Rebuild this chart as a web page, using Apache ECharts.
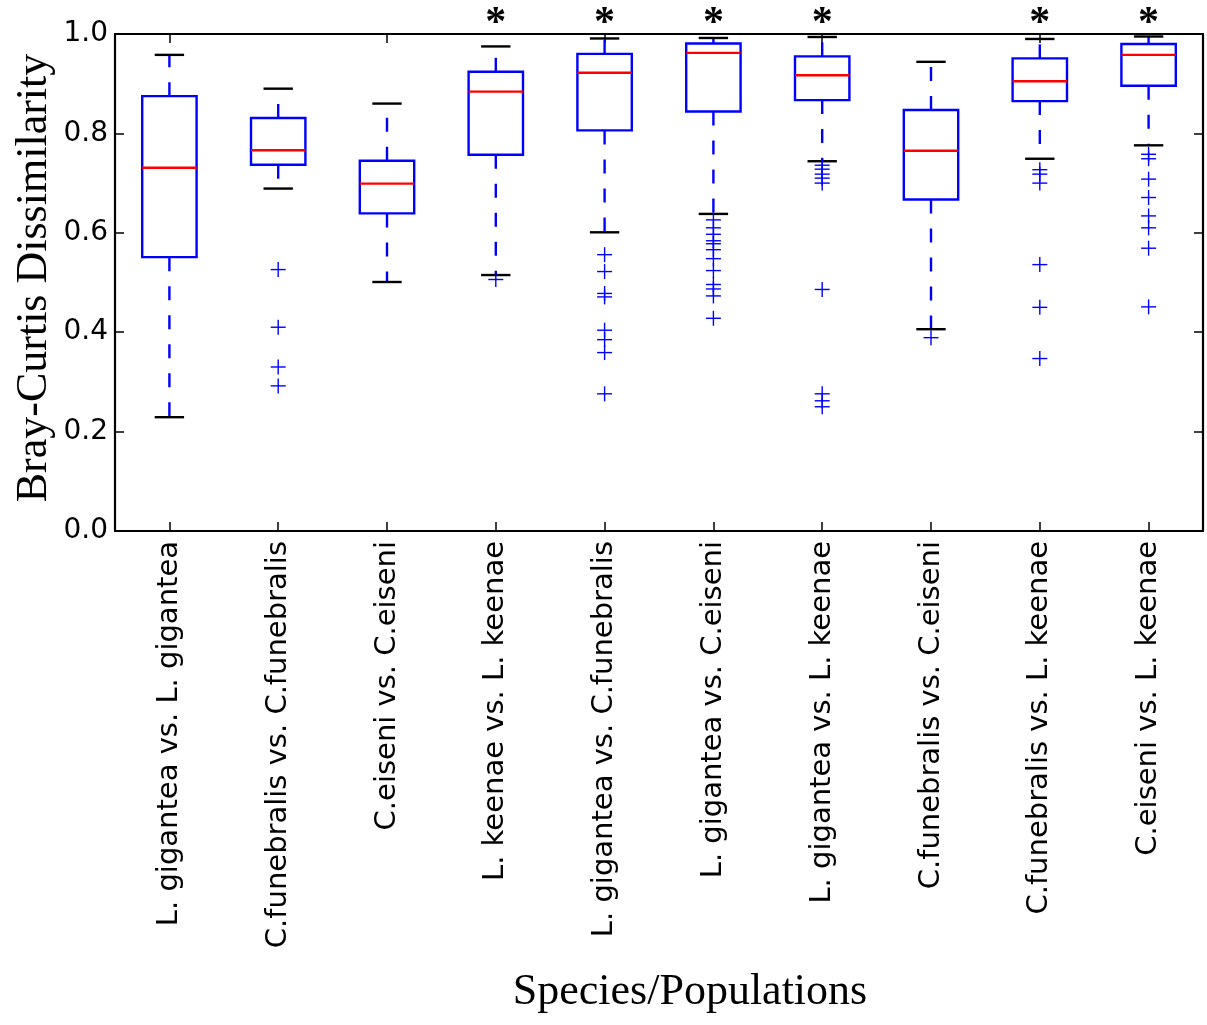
<!DOCTYPE html>
<html>
<head>
<meta charset="utf-8">
<script src="https://cdn.jsdelivr.net/npm/echarts@6/dist/echarts.min.js"></script>
<style>
  html, body { margin: 0; padding: 0; background: #fff; }
  #chart { width: 1207px; height: 1025px; }
</style>
</head>
<body>
<div id="chart"></div>
<script>
// Pairwise comparisons (species / populations)
const categories = [
  'L. gigantea vs. L. gigantea',
  'C.funebralis vs. C.funebralis',
  'C.eiseni vs. C.eiseni',
  'L. keenae vs. L. keenae',
  'L. gigantea vs. C.funebralis',
  'L. gigantea vs. C.eiseni',
  'L. gigantea vs. L. keenae',
  'C.funebralis vs. C.eiseni',
  'C.funebralis vs. L. keenae',
  'C.eiseni vs. L. keenae'
];

// Box statistics of Bray-Curtis dissimilarity per comparison
const lowerWhisker = [0.229, 0.689, 0.501, 0.515, 0.601, 0.638, 0.744, 0.406, 0.749, 0.776];
const quartile1    = [0.551, 0.737, 0.639, 0.757, 0.806, 0.844, 0.867, 0.667, 0.865, 0.896];
const medians      = [0.731, 0.766, 0.699, 0.884, 0.922, 0.962, 0.917, 0.765, 0.905, 0.958];
const quartile3    = [0.875, 0.831, 0.745, 0.924, 0.960, 0.981, 0.955, 0.847, 0.951, 0.980];
const upperWhisker = [0.958, 0.890, 0.860, 0.975, 0.991, 0.992, 0.994, 0.944, 0.990, 0.995];

// Points beyond the whiskers
const outliers = [
  [],
  [0.526, 0.410, 0.330, 0.292],
  [],
  [0.506],
  [0.556, 0.522, 0.478, 0.471, 0.404, 0.385, 0.359, 0.276],
  [0.626, 0.610, 0.597, 0.584, 0.578, 0.566, 0.548, 0.524, 0.496, 0.487, 0.473, 0.428],
  [0.736, 0.728, 0.718, 0.710, 0.700, 0.486, 0.276, 0.262, 0.250],
  [0.389],
  [0.727, 0.718, 0.700, 0.536, 0.450, 0.347],
  [0.758, 0.749, 0.708, 0.671, 0.634, 0.610, 0.569, 0.451]
];

// Comparisons marked as significant
const significant = [false, false, false, true, true, true, true, false, true, true];

// Y axis ticks
const yTicks = [0.0, 0.2, 0.4, 0.6, 0.8, 1.0];

const BLUE = '#0000ff';
const RED = '#ff0000';
const BLACK = '#000000';
const SANS = '"DejaVu Sans", sans-serif';
const SERIF = '"Liberation Serif", "Times New Roman", serif';
const LW = 2.4;

const boxData = categories.map((c, i) => [i, lowerWhisker[i], quartile1[i], medians[i], quartile3[i], upperWhisker[i]]);
const outlierData = [];
outliers.forEach((list, i) => list.forEach(v => outlierData.push([i, v])));
const starData = [];
significant.forEach((s, i) => { if (s) starData.push([i, 1.0]); });

function renderBox(params, api) {
  const i = api.value(0);
  const lo = api.coord([i, api.value(1)]);
  const q1 = api.coord([i, api.value(2)]);
  const md = api.coord([i, api.value(3)]);
  const q3 = api.coord([i, api.value(4)]);
  const hi = api.coord([i, api.value(5)]);
  const band = api.size([1, 0])[0];
  const bw = band * 0.5;
  const cw = band * 0.27;
  const cx = lo[0];
  const dashed = { stroke: BLUE, lineWidth: LW, lineDash: [14, 15], fill: null };
  const cap = { stroke: BLACK, lineWidth: LW };
  return {
    type: 'group',
    children: [
      { type: 'line', shape: { x1: cx, y1: q1[1], x2: cx, y2: lo[1] }, style: dashed },
      { type: 'line', shape: { x1: cx, y1: q3[1], x2: cx, y2: hi[1] }, style: dashed },
      { type: 'line', shape: { x1: cx - cw / 2, y1: lo[1], x2: cx + cw / 2, y2: lo[1] }, style: cap },
      { type: 'line', shape: { x1: cx - cw / 2, y1: hi[1], x2: cx + cw / 2, y2: hi[1] }, style: cap },
      { type: 'rect', shape: { x: cx - bw / 2, y: q3[1], width: bw, height: q1[1] - q3[1] }, style: { stroke: BLUE, lineWidth: LW, fill: null } },
      { type: 'line', shape: { x1: cx - bw / 2, y1: md[1], x2: cx + bw / 2, y2: md[1] }, style: { stroke: RED, lineWidth: LW } }
    ]
  };
}

function renderPlus(params, api) {
  const p = api.coord([api.value(0), api.value(1)]);
  const h = 7.5;
  const st = { stroke: BLUE, lineWidth: 1.4 };
  return {
    type: 'group',
    children: [
      { type: 'line', shape: { x1: p[0] - h, y1: p[1], x2: p[0] + h, y2: p[1] }, style: st },
      { type: 'line', shape: { x1: p[0], y1: p[1] - h, x2: p[0], y2: p[1] + h }, style: st }
    ]
  };
}

function renderStar(params, api) {
  const p = api.coord([api.value(0), api.value(1)]);
  return {
    type: 'text',
    x: p[0],
    y: p[1] - 10,
    style: {
      text: '*',
      fontSize: 42,
      fontWeight: 'bold',
      fontFamily: SERIF,
      fill: BLACK,
      align: 'center',
      verticalAlign: 'middle'
    }
  };
}

const tickStyle = { show: true, inside: true, length: 9, alignWithLabel: true, lineStyle: { color: BLACK, width: 1.5 } };
const frameLine = { show: true, onZero: false, lineStyle: { color: BLACK, width: 2.2 } };

const chart = echarts.init(document.getElementById('chart'), null, { renderer: 'canvas' });
chart.setOption({
  backgroundColor: '#ffffff',
  animation: false,
  grid: { left: 115, right: 4, top: 34, bottom: 494, containLabel: false, outerBoundsMode: 'none' },
  xAxis: [
    {
      type: 'category', data: categories, position: 'bottom', boundaryGap: true,
      axisLine: frameLine, axisTick: tickStyle,
      axisLabel: { rotate: 90, margin: 10, fontSize: 29, fontFamily: SANS, color: BLACK, interval: 0 },
      splitLine: { show: false }
    },
    {
      type: 'category', data: categories, position: 'top', boundaryGap: true,
      axisLine: frameLine, axisTick: tickStyle, axisLabel: { show: false }, splitLine: { show: false }
    }
  ],
  yAxis: [
    {
      type: 'value', min: 0, max: 1, interval: 0.2, position: 'left',
      axisLine: frameLine,
      axisTick: { show: true, inside: true, length: 9, lineStyle: { color: BLACK, width: 1.5 } },
      axisLabel: {
        margin: 7, fontSize: 28, fontFamily: SANS, color: BLACK,
        customValues: yTicks,
        formatter: v => v.toFixed(1)
      },
      splitLine: { show: false }
    },
    {
      type: 'value', min: 0, max: 1, interval: 0.2, position: 'right',
      axisLine: frameLine,
      axisTick: { show: true, inside: true, length: 9, lineStyle: { color: BLACK, width: 1.5 } },
      axisLabel: { show: false }, splitLine: { show: false }
    }
  ],
  graphic: [
    {
      type: 'text', x: 34, y: 278, rotation: Math.PI / 2,
      style: { text: 'Bray-Curtis Dissimilarity', fontSize: 44, fontFamily: SERIF, fill: BLACK, align: 'center', verticalAlign: 'middle' }
    },
    {
      type: 'text', x: 690, y: 992,
      style: { text: 'Species/Populations', fontSize: 44, fontFamily: SERIF, fill: BLACK, align: 'center', verticalAlign: 'middle' }
    }
  ],
  series: [
    {
      type: 'custom', name: 'box', xAxisIndex: 0, yAxisIndex: 0, clip: false,
      renderItem: renderBox, encode: { x: 0, y: [1, 2, 3, 4, 5] }, data: boxData, z: 2
    },
    {
      type: 'custom', name: 'outliers', xAxisIndex: 0, yAxisIndex: 0, clip: false,
      renderItem: renderPlus, encode: { x: 0, y: 1 }, data: outlierData, z: 3
    },
    {
      type: 'custom', name: 'significance', xAxisIndex: 0, yAxisIndex: 0, clip: false,
      renderItem: renderStar, encode: { x: 0, y: 1 }, data: starData, z: 3
    }
  ]
});
</script>
</body>
</html>
